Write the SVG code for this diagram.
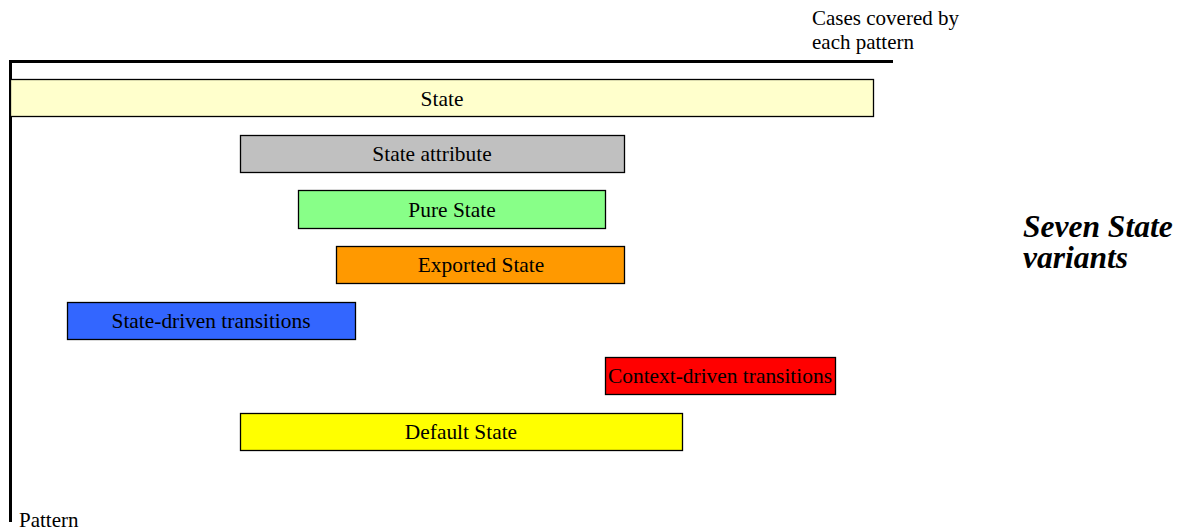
<svg xmlns="http://www.w3.org/2000/svg" width="1181" height="532" viewBox="0 0 1181 532">
<style>
.box{stroke:#000;stroke-width:1.3}
.axis{stroke:#000;stroke-width:3;fill:none}
</style>
<rect width="1181" height="532" fill="#fff"/>
<g id="axes">
<path class="axis" d="M10.5 522 V61.5 H893"/>
</g>
<g id="connectors"></g>
<g font-family="'Liberation Serif', 'Times New Roman', serif" font-size="21.4" text-anchor="middle" fill="#000">
<g id="state"><rect class="box" x="10.5" y="79.5" width="863" height="37" fill="#FFFFCC"/><text x="442" y="106">State</text></g>
<g id="state-attribute"><rect class="box" x="240.5" y="135.5" width="384" height="37" fill="#C0C0C0"/><text x="432" y="161">State attribute</text></g>
<g id="pure-state"><rect class="box" x="298.5" y="190.5" width="307" height="38" fill="#88FF88"/><text x="452" y="217">Pure State</text></g>
<g id="exported-state"><rect class="box" x="336.5" y="246.5" width="288" height="37" fill="#FF9900"/><text x="481" y="272">Exported State</text></g>
<g id="state-driven"><rect class="box" x="67.5" y="302.5" width="288" height="37" fill="#3366FF"/><text x="211" y="328">State-driven transitions</text></g>
<g id="context-driven"><rect class="box" x="605.5" y="357.5" width="230" height="37" fill="#FF0000"/><text x="720" y="383">Context-driven transitions</text></g>
<g id="default-state"><rect class="box" x="240.5" y="413.5" width="442" height="37" fill="#FFFF00"/><text x="461" y="439">Default State</text></g>
</g>
<g id="labels" font-family="'Liberation Serif', 'Times New Roman', serif" fill="#000">
<text font-size="21" x="812" y="25">Cases covered by</text>
<text font-size="21" x="812" y="49">each pattern</text>
<text font-size="21" x="19" y="527">Pattern</text>
<text font-size="31.5" font-weight="bold" font-style="italic" x="1023" y="237">Seven State</text>
<text font-size="31.5" font-weight="bold" font-style="italic" x="1023" y="268">variants</text>
</g>
</svg>
